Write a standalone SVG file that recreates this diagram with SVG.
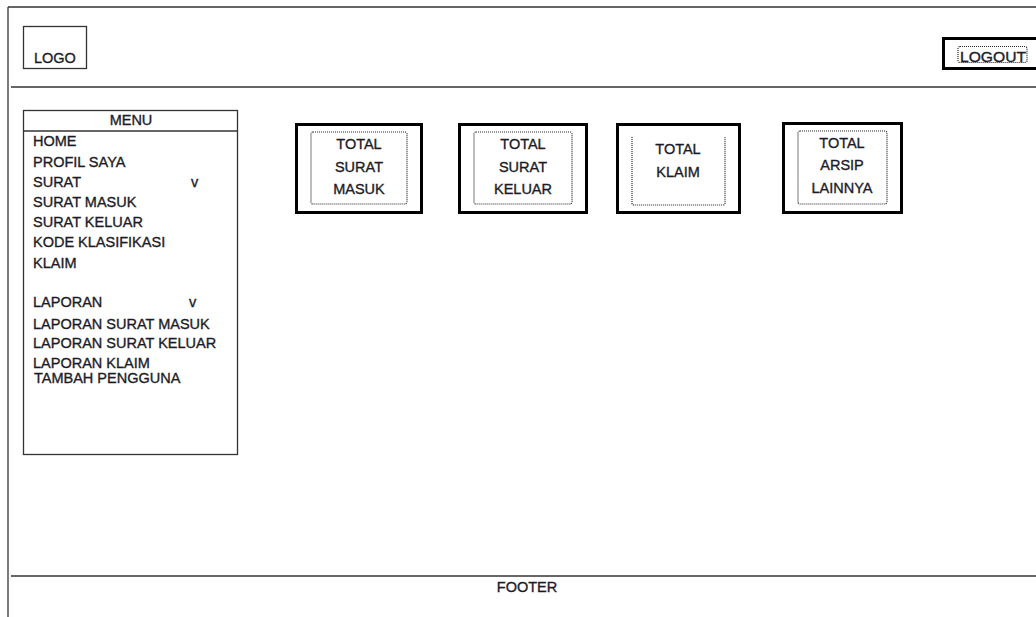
<svg xmlns="http://www.w3.org/2000/svg" width="1036" height="617" viewBox="0 0 1036 617">
  <style>
    .line { stroke: #333; stroke-width: 1.3; fill: none; }
    .box { stroke: #333; stroke-width: 1.3; fill: #fff; }
    .thick { stroke: #000; stroke-width: 3; fill: #fff; }
    .dot { stroke: #222; stroke-width: 1.2; stroke-dasharray: 1 1; fill: none; }
    text { font-family: "Liberation Sans", Arial, sans-serif; font-size: 14.5px; fill: #1c1c28; stroke: #1c1c28; stroke-width: 0.35; }
    .mid { text-anchor: middle; }
  </style>

  <rect width="1036" height="617" fill="#fff"/>

  <!-- page frame -->
  <g id="frame">
    <line class="line" x1="8" y1="7" x2="1036" y2="7"/>
    <line class="line" x1="8" y1="7" x2="8" y2="617"/>
    <line class="line" x1="11" y1="87" x2="1036" y2="87"/>
    <line class="line" x1="11" y1="576" x2="1036" y2="576"/>
  </g>

  <g id="logo">
    <rect class="box" x="23.5" y="26.5" width="63" height="42"/>
    <text x="34" y="63">LOGO</text>
  </g>

  <g id="logout">
    <rect class="thick" x="943.5" y="38.5" width="100" height="30"/>
    <rect class="dot" x="958" y="46.5" width="69" height="16" rx="2"/>
    <text x="960" y="62" textLength="66" lengthAdjust="spacingAndGlyphs">LOGOUT</text>
  </g>

  <g id="menu">
    <rect class="box" x="23.5" y="110.5" width="214" height="344"/>
    <line class="line" x1="23.5" y1="131" x2="237.5" y2="131"/>
    <text class="mid" x="131" y="125">MENU</text>
    <text x="33" y="146">HOME</text>
    <text x="33" y="166.5">PROFIL SAYA</text>
    <text x="33" y="186.5">SURAT</text>
    <text x="191" y="186.5" font-size="11">v</text>
    <text x="33" y="206.5">SURAT MASUK</text>
    <text x="33" y="226.5">SURAT KELUAR</text>
    <text x="33" y="246.5">KODE KLASIFIKASI</text>
    <text x="33" y="268">KLAIM</text>
    <text x="33" y="307">LAPORAN</text>
    <text x="189" y="307" font-size="11">v</text>
    <text x="33" y="328.5">LAPORAN SURAT MASUK</text>
    <text x="33" y="348">LAPORAN SURAT KELUAR</text>
    <text x="33" y="367.5">LAPORAN KLAIM</text>
    <text x="34" y="382.5">TAMBAH PENGGUNA</text>
  </g>

  <g id="total-surat-masuk">
    <rect class="thick" x="296.5" y="124.5" width="125" height="88"/>
    <rect class="dot" x="311" y="132" width="96" height="72" rx="2"/>
    <text class="mid" x="359" y="149">TOTAL</text>
    <text class="mid" x="359" y="172">SURAT</text>
    <text class="mid" x="359" y="194">MASUK</text>
  </g>

  <g id="total-surat-keluar">
    <rect class="thick" x="459.5" y="124.5" width="127" height="88"/>
    <rect class="dot" x="474" y="132" width="98" height="72" rx="2"/>
    <text class="mid" x="523" y="149">TOTAL</text>
    <text class="mid" x="523" y="172">SURAT</text>
    <text class="mid" x="523" y="194">KELUAR</text>
  </g>

  <g id="total-klaim">
    <rect class="thick" x="617.5" y="124.5" width="122" height="88"/>
    <path class="dot" d="M632 137 V203 Q632 205 634 205 H723 Q725 205 725 203 V137"/>
    <text class="mid" x="678" y="154">TOTAL</text>
    <text class="mid" x="678" y="177">KLAIM</text>
  </g>

  <g id="total-arsip-lainnya">
    <rect class="thick" x="783.5" y="123.5" width="118" height="89"/>
    <rect class="dot" x="798" y="131" width="89" height="73" rx="2"/>
    <text class="mid" x="842" y="148">TOTAL</text>
    <text class="mid" x="842" y="170">ARSIP</text>
    <text class="mid" x="842" y="193">LAINNYA</text>
  </g>

  <g id="footer">
    <text class="mid" x="527" y="592">FOOTER</text>
  </g>
</svg>
